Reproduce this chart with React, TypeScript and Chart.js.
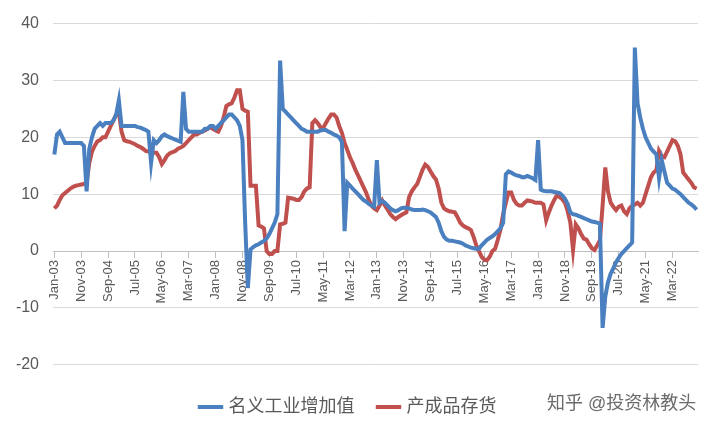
import React, { useEffect, useRef } from "react";
import { Chart, registerables } from "chart.js";
Chart.register(...registerables);

const MONTHS = ["Jan","Feb","Mar","Apr","May","Jun","Jul","Aug","Sep","Oct","Nov","Dec"];
const categories: string[] = [];
for (let y = 3; y <= 22; y++) for (const m of MONTHS) categories.push(`${m}-${String(y).padStart(2, "0")}`);

const nominalIndustry = [
  17,20.5,21,20,19,19,19,19,19,19,19,18.5,
  10.5,18,20,21.5,22,22.5,22,22.5,22.5,22.5,23,24,
  26.5,22,22,22,22,22,22,21.8,21.7,21.5,21.3,21,
  15.5,19.5,19,19.5,20.2,20.5,20.2,20,19.8,19.6,19.4,19.2,
  28,21.5,21,21,21,21,21,21,21.5,21.5,22,22,
  21.5,22,22.5,23,23.5,24,24,23.5,23,22,19.5,5,
  -6.5,0.3,0.7,1,1.2,1.5,1.8,2.2,3,4,5,6.5,
  33.5,25,24.5,24,23.5,23,22.5,22,21.5,21.3,21,21,
  21,21,21,21.2,21.3,21.3,21,20.8,20.5,20.3,20,19.2,
  3.5,12,11.5,11,10.5,10,9.5,9,8.7,8.3,8,7.8,
  16,8.5,8.8,8.5,8,7.5,7.2,7,7.2,7.5,7.6,7.6,
  7.5,7.3,7.2,7.2,7.2,7.3,7.2,7,6.8,6.4,6,5,
  3.5,2.5,2,1.8,1.8,1.7,1.6,1.5,1.3,1,0.8,0.6,
  0.5,0.4,0.4,1,1.5,2,2.3,2.6,3,3.5,4,5,
  13.5,14,13.8,13.5,13.3,13.2,13,13,13.2,13,12.8,12.5,
  19.5,10.8,10.6,10.5,10.5,10.5,10.4,10.3,10.2,9.8,9.2,8.3,
  6.8,6.5,6.4,6.2,6,5.8,5.6,5.4,5.2,5.1,5,4.8,
  -13.5,-8,-5.5,-4,-3,-2,-1.2,-0.5,0,0.5,1,1.5,
  35.8,26,23.5,21.5,20,19,18,17.5,17,12.8,16,14,
  12,11.5,11,10.8,10.4,10,9.5,9,8.5,8.2,7.8,7.3,
];

const finishedInventory = [
  7.5,8,9,9.8,10.2,10.6,11,11.3,11.5,11.6,11.7,11.8,
  12,15.5,17.5,18.5,19.3,19.5,20,20,21,22,23,24,
  24.5,21,19.5,19.3,19.2,19,18.8,18.5,18.3,18,17.6,17.5,
  17.5,17.3,17.3,16.5,15.3,16,16.8,17.2,17.4,17.6,18,18.2,
  18.5,19,19.5,20,20.5,20.5,20.8,21,21.2,21.5,21.8,21.5,
  21.2,21,22,23.5,25.5,25.8,26,27,28.3,28.3,25,24.7,
  24.5,11.5,11.5,11.5,4.5,4.3,4,0,-0.5,-0.5,0,0,
  4.7,4.8,5,9.4,9.3,9.2,9,9,9.5,10.5,11,11.2,
  22.5,23,22.5,21.8,21.6,22.5,23.3,24,24,23.5,22,20.8,
  19,17.8,16.5,15.5,14.3,13.3,12.3,11.3,10.3,9,8,7.5,
  7.2,8,8.9,8,7.3,6.5,6,5.6,6,6.3,6.6,6.8,
  9.5,10.5,11.2,11.8,13,14.3,15.2,14.8,14,13.2,12.6,11,
  8.5,7.5,7.2,7,6.9,6.8,6,5,4.5,4.2,4,3.7,
  2.5,1,0,-1,-1.5,-1.6,-1,0,0.4,2,3.8,6.5,
  8.5,10.3,10.3,9,8.3,8,8,8.5,8.9,8.8,8.7,8.5,
  8.5,8.5,8.2,5.4,6.8,8,9,9.8,9.5,9.1,8.5,7,
  5,0.2,4.7,4,3,2.2,2,1.2,0.5,0.2,1,1.9,
  8,14.7,10.5,8.5,7.8,7.2,7.8,8,7,6.5,7.5,8,
  8.2,8.5,8,8.5,10,11.5,13,13.8,14.2,17.6,16.7,16.5,
  17.5,18.5,19.5,19.3,18.5,17,13.8,13.2,12.6,12,11.2,11,
];

const SERIES_NAMES = ["名义工业增加值", "产成品存货"];
const WATERMARK = "知乎 @投资林教头";
const FONT = "'Liberation Sans', 'Noto Sans CJK SC', sans-serif";

export default function App() {
  const ref = useRef<HTMLCanvasElement>(null);
  useEffect(() => {
    if (!ref.current) return;
    const watermark = {
      id: "wm",
      afterDraw(chart: any) {
        const c = chart.ctx;
        c.save();
        c.font = `18px ${FONT}`;
        c.textBaseline = "middle";
        c.lineWidth = 3;
        c.strokeStyle = "rgba(255,255,255,0.9)";
        c.fillStyle = "#6b6b6b";
        c.strokeText(WATERMARK, 547, 404);
        c.fillText(WATERMARK, 547, 404);
        c.restore();
      },
    };
    const chart = new Chart(ref.current, {
      type: "line",
      data: {
        labels: categories,
        datasets: [
          { label: SERIES_NAMES[0], data: nominalIndustry, borderColor: "#4a7fc0", backgroundColor: "#4a7fc0", borderWidth: 4, pointRadius: 0, tension: 0 },
          { label: SERIES_NAMES[1], data: finishedInventory, borderColor: "#c0504d", backgroundColor: "#c0504d", borderWidth: 4, pointRadius: 0, tension: 0 },
        ],
      },
      options: {
        animation: false,
        responsive: false,
        layout: { padding: { top: 10, right: 22, left: 0, bottom: 6 } },
        plugins: {
          tooltip: { enabled: false },
          legend: {
            position: "bottom",
            title: { display: true, text: "", font: { size: 1 }, padding: { top: 0, bottom: 7 } },
            labels: {
              usePointStyle: true,
              pointStyle: "line",
              boxWidth: 38,
              font: { size: 18, family: FONT },
              color: "#595959",
              padding: 25,
            },
          },
        },
        scales: {
          x: {
            type: "category",
            position: { y: 0 } as any,
            offset: true,
            border: { display: true, color: "#bfbfbf" },
            grid: {
              drawOnChartArea: false,
              drawTicks: true,
              tickLength: 6,
              color: (ctx: any) => (ctx.index % 10 === 0 ? "#bfbfbf" : "rgba(0,0,0,0)"),
            },
            ticks: {
              autoSkip: false,
              maxRotation: 90,
              minRotation: 90,
              color: "#595959",
              font: { size: 13, family: FONT },
              callback: (_v: any, i: number) => (i % 10 === 0 ? categories[i] : ""),
            },
          },
          y: {
            min: -20,
            max: 40,
            afterFit: (s: any) => { s.width = 53; },
            border: { display: false },
            grid: { color: "#d9d9d9", drawTicks: false },
            ticks: { stepSize: 10, color: "#595959", font: { size: 16, family: FONT }, padding: 14 },
          },
        },
      },
      plugins: [watermark],
    });
    return () => chart.destroy();
  }, []);
  return (
    <div style={{ position: "absolute", left: 0, top: 0, width: 720, height: 432, background: "#fff" }}>
      <canvas ref={ref} width={720} height={432} style={{ display: "block" }} />
    </div>
  );
}
